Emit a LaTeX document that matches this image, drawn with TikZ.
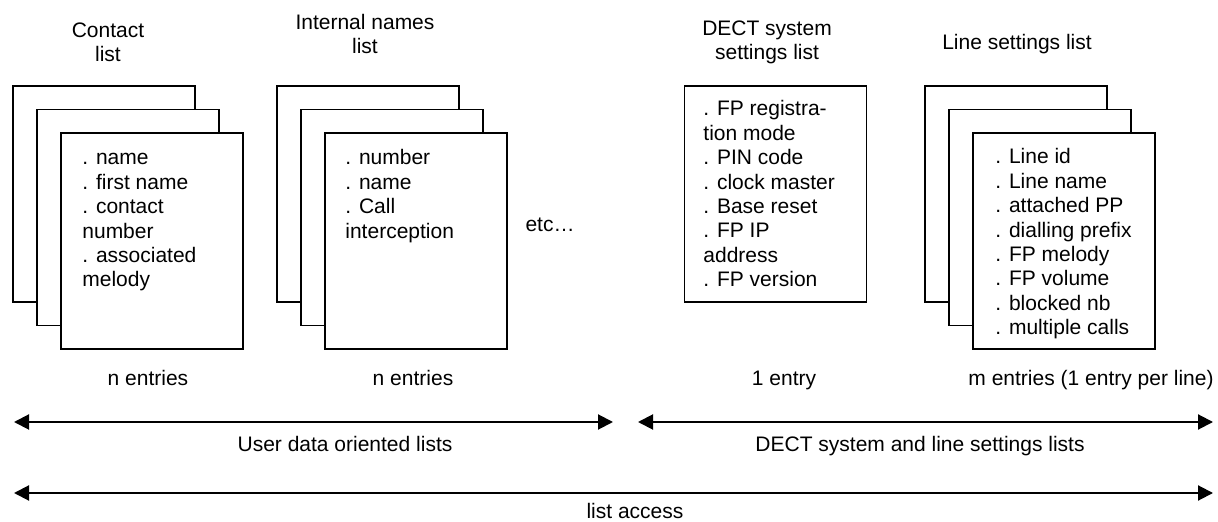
\documentclass[tikz,border=0pt]{standalone}
\usepackage{fontspec}
\setmainfont{Liberation Sans}
\usetikzlibrary{arrows.meta, positioning, calc}

\begin{document}
\begin{tikzpicture}[
    x=0.5pt, y=-0.5pt,
    sheet/.style={
        rectangle, draw=black, line width=0.9pt, fill=white,
        minimum width=91pt, minimum height=108pt, inner sep=0pt,
    },
    heading/.style={align=center, anchor=base, inner sep=0pt,
        font=\fontsize{10.5}{11.8}\selectfont},
    items/.style={align=left, anchor=base west, inner sep=0pt,
        font=\fontsize{10.5}{12.2}\selectfont},
    count/.style={anchor=base, inner sep=0pt, font=\fontsize{10.5}{12}\selectfont},
    span/.style={
        {Triangle[length=7.5pt,width=7.5pt]}-{Triangle[length=7.5pt,width=7.5pt]},
        line width=1pt,
    },
]
\useasboundingbox (0,0) rectangle (1218,522);

% ── Stack offsets and line pitch (multi-line nodes sit on their last line) ─
\def\dx{24}
\def\dy{23.5}
\def\lineH{24.4}
\def\headH{23.6}

% ── Contact list ───────────────────────────────────────────────────────────
\node[heading] (tcon) at (108,37.5+\headH) {Contact\\list};
\node[sheet] (con1) at (104,194)               {};
\node[sheet] (con2) at (104+\dx,194+\dy)       {};
\node[sheet] (con3) at (104+2*\dx,194+2*\dy)   {};
\node[items] (icon) at (82,165+5*\lineH) {. name\\. first name\\. contact\\number\\. associated\\melody};
\node[count] (ncon) at (148,386) {n entries};

% ── Internal names list ────────────────────────────────────────────────────
\node[heading] (tint) at (365,30+\headH) {Internal names\\list};
\node[sheet] (int1) at (368,194)               {};
\node[sheet] (int2) at (368+\dx,194+\dy)       {};
\node[sheet] (int3) at (368+2*\dx,194+2*\dy)   {};
\node[items] (iint) at (345,165+3*\lineH) {. number\\. name\\. Call\\interception};
\node[count] (nint) at (413,386) {n entries};

\node[count] (etc) at (550,231.5) {etc\dots};

% ── DECT system settings list ──────────────────────────────────────────────
\node[heading] (tdect) at (767,36+\headH) {DECT system\\settings list};
\node[sheet] (dect) at (775.5,194) {};
\node[items] (idect) at (703,116+7*\lineH) {. FP registra-\\tion mode\\. PIN code\\. clock master\\. Base reset\\. FP IP\\address\\. FP version};
\node[count] (ndect) at (784,386) {1 entry};

% ── Line settings list ─────────────────────────────────────────────────────
\node[heading] (tline) at (1017,49.5) {Line settings list};
\node[sheet] (lin1) at (1016,194)              {};
\node[sheet] (lin2) at (1016+\dx,194+\dy)      {};
\node[sheet] (lin3) at (1016+2*\dx,194+2*\dy)  {};
\node[items] (ilin) at (995,164+7*\lineH) {. Line id\\. Line name\\. attached PP\\. dialling prefix\\. FP melody\\. FP volume\\. blocked nb\\. multiple calls};
\node[count] (nlin) at (1091,386) {m entries (1 entry per line)};

% ── Scope arrows ───────────────────────────────────────────────────────────
\coordinate (u0) at (14,422);
\coordinate (u1) at (613,422);
\coordinate (s0) at (638,422);
\coordinate (s1) at (1213,422);
\coordinate (a0) at (14,493);
\coordinate (a1) at (1213,493);

\draw[span] (u0) -- (u1);
\draw[span] (s0) -- (s1);
\draw[span] (a0) -- (a1);

\node[count] (luser) at (345,451.5) {User data oriented lists};
\node[count] (lsys)  at (920,451.5) {DECT system and line settings lists};
\node[count] (lall)  at (635,518.5) {list access};

\end{tikzpicture}
\end{document}
